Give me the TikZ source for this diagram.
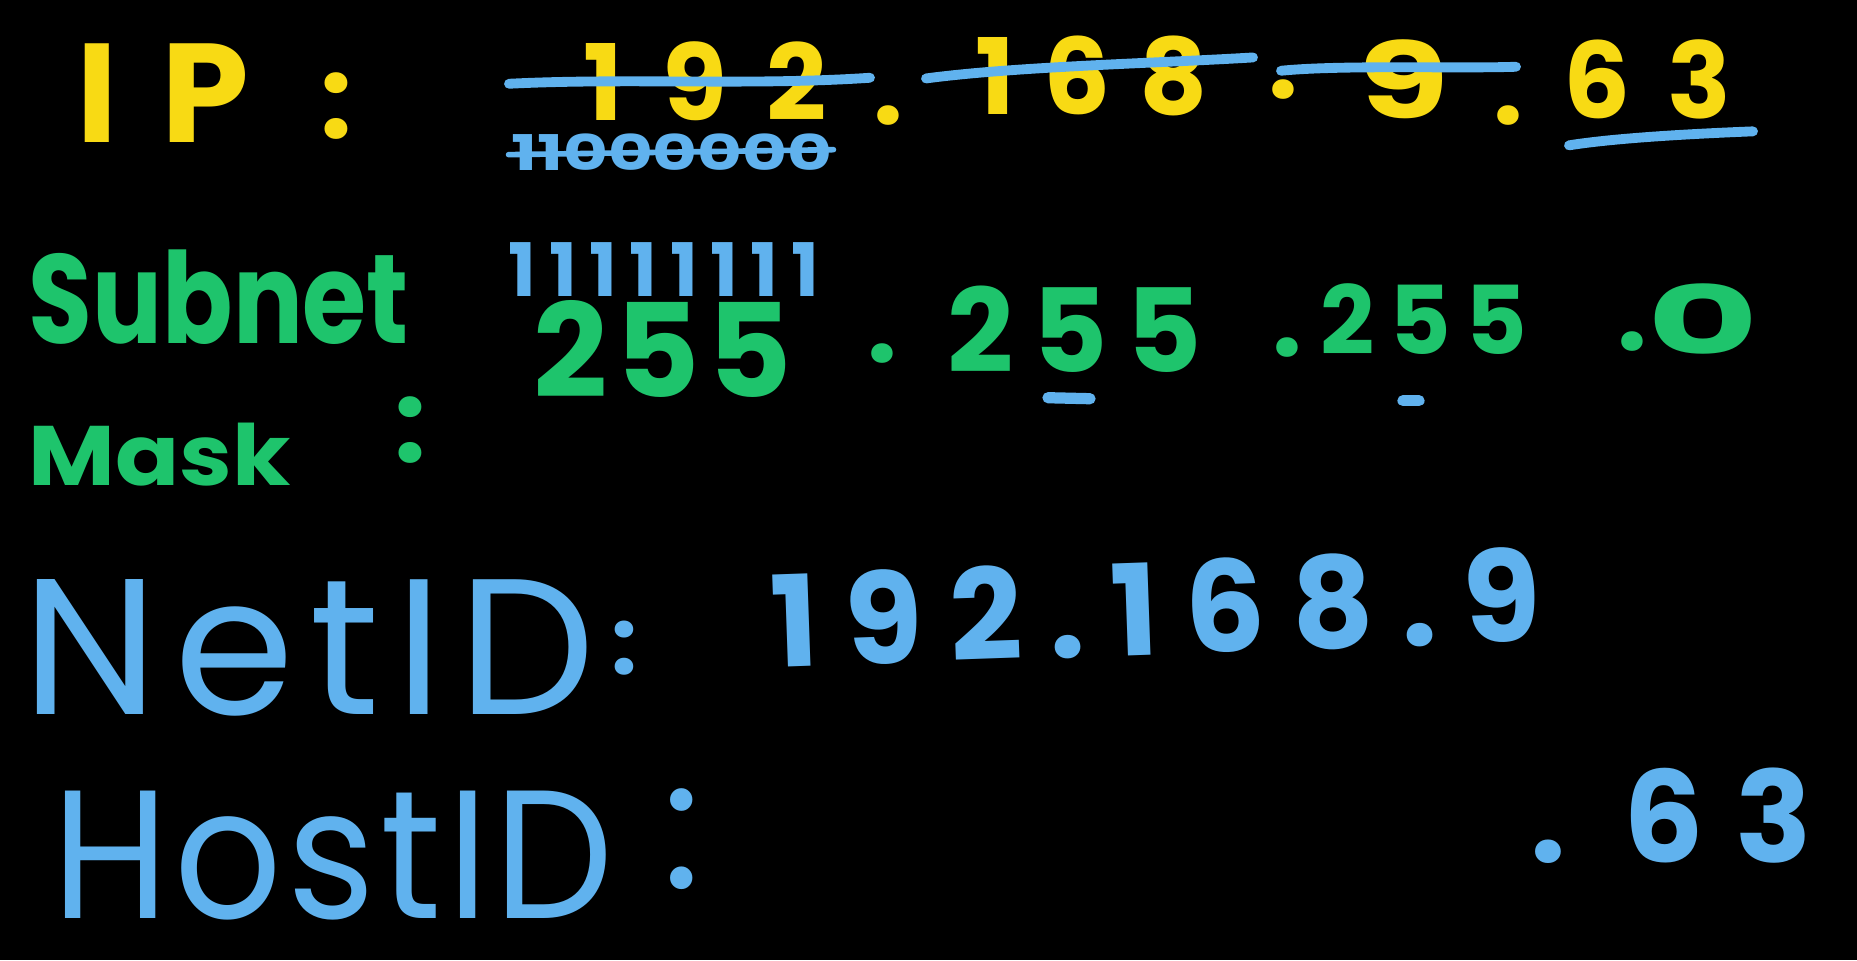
\documentclass[tikz,border=0pt]{standalone}
\usepackage{fontspec}
\setmainfont{Poppins}
\usetikzlibrary{positioning, calc}
\definecolor{MarkerYellow}{RGB}{248, 218, 20}
\definecolor{MarkerGreen}{RGB}{30, 196, 108}
\definecolor{MarkerBlue}{RGB}{96, 178, 238}
\tikzset{
  hand/.style args={#1/#2/#3/#4}{inner sep=0pt, anchor=base,
    font={\fontsize{#1}{#1}\fontseries{#4}\selectfont\addfontfeature{FakeStretch=#2,LetterSpace=#3}}},
  strike/.style={draw=MarkerBlue, line width=2.8pt, line cap=round}
}

\begin{document}
\begin{tikzpicture}[x=0.01cm, y=-0.01cm]
\fill[black] (0,0) rectangle (1857,960);
% IP row
\node[hand=40/1/31/bx, text=MarkerYellow, anchor=base west] (iplbl) at (76,142) {IP};
\node[hand=32/1/0/bx, text=MarkerYellow] (ipcolon) at (336,138) {:};
\node[hand=30/1/37/bx, text=MarkerYellow] (ipa) at (705,120) {192};
\node[hand=30/1/0/bx, text=MarkerYellow] (dota) at (888,124) {.};
\node[hand=30/1/27/bx, text=MarkerYellow] (ipb) at (1092,114) {168};
\node[hand=30/1/0/bx, text=MarkerYellow] (dotb) at (1283,98) {.};
\node[hand=30/1.4/0/bx, text=MarkerYellow] (ipc) at (1404,118) {9};
\node[hand=30/1/0/bx, text=MarkerYellow] (dotc) at (1508,124) {.};
\node[hand=30/1/35/bx, text=MarkerYellow] (ipd) at (1647,118) {63};
\node[hand=14/1.4/0/bx, text=MarkerBlue] (bina) at (672,170) {11000000};
\draw[strike] ($(ipa)+(-196,3)$) .. controls +(120,-6) and +(-120,8) .. ($(ipa)+(165,-3)$);
\draw[strike] ($(ipb)+(-166,3)$) .. controls +(90,-12) and +(-100,6) .. ($(ipb)+(161,-18)$);
\draw[strike] ($(ipc)+(-123,-8)$) .. controls +(60,-6) and +(-60,2) .. ($(ipc)+(112,-12)$);
\draw[strike] ($(ipd.south)+(-78,26)$) .. controls +(50,-8) and +(-50,2) .. ($(ipd.south)+(106,12)$);
\draw[strike, line width=1.6pt] ($(bina.west)+(-2,3)$) -- ($(bina.east)+(0,-2)$);
% subnet mask row
\node[hand=36/0.82/0/bx, text=MarkerGreen, anchor=base west] (subnet) at (28,343) {Subnet};
\node[hand=24/1.12/0/bx, text=MarkerGreen, anchor=base west] (mask) at (28,485) {Mask};
\node[hand=32/1/0/bx, text=MarkerGreen] (maskcolon) at (410,462) {:};
\node[hand=21/1/17/bx, text=MarkerBlue] (ones) at (664,296) {11111111};
\node[hand=37/1/6/bx, text=MarkerGreen] (maska) at (663,397) {255};
\node[hand=30/1/0/bx, text=MarkerGreen] (mdota) at (882,362) {.};
\node[hand=33/1/16/bx, text=MarkerGreen] (maskb) at (1075,372) {255};
\node[hand=30/1/0/bx, text=MarkerGreen] (mdotb) at (1287,356) {.};
\node[hand=27/1/15/bx, text=MarkerGreen] (maskc) at (1424,354) {255};
\node[hand=30/1/0/bx, text=MarkerGreen] (mdotc) at (1632,350) {.};
\node[hand=27/1.8/0/bx, text=MarkerGreen] (maskd) at (1703,354) {0};
\draw[strike, line width=3.2pt] ($(maskb.south)+(-27,25)$) -- ($(maskb.south)+(15,26)$);
\draw[strike, line width=3.2pt] ($(maskc.south)+(-21,46)$) -- ($(maskc.south)+(-5,46)$);
% net id row
\node[hand=55/1/8/m, text=MarkerBlue, anchor=base west] (netid) at (22,714) {NetID};
\node[hand=26/1/0/bx, text=MarkerBlue] (netcolon) at (624,674) {:};
\node[hand=36/1/21/bx, text=MarkerBlue, rotate=2, anchor=base west] (netnum) at (772,668) {192.168.9};
% host id row
\node[hand=52/0.92/3/m, text=MarkerBlue, anchor=base west] (hostid) at (52,918) {HostID};
\node[hand=52/1/0/m, text=MarkerBlue] (hostcolon) at (682,888) {:};
\node[hand=36/1/25/bx, text=MarkerBlue, anchor=base west] (hostnum) at (1530,862) {.\hspace{0.45em}63};
\end{tikzpicture}
\end{document}
